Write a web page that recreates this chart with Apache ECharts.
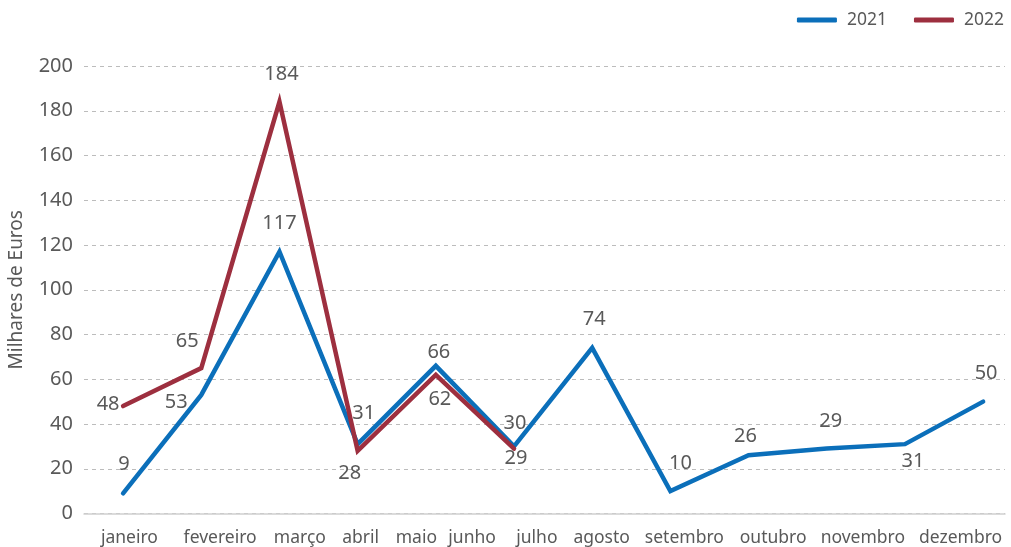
<!DOCTYPE html>
<html>
<head>
<meta charset="utf-8">
<script src="https://cdn.jsdelivr.net/npm/echarts@6/dist/echarts.min.js"></script>
<style>
    html, body { margin: 0; padding: 0; background: #fff; }
    #chartMain { width: 1011px; height: 547px; }
</style>
</head>
<body>
<div id="chartMain"></div>
<script>
// dados
const months = ['janeiro', 'fevereiro', 'março', 'abril', 'maio', 'junho', 'julho', 'agosto', 'setembro', 'outubro', 'novembro', 'dezembro']
const values2021 = [9, 53, 117, 31, 66, 30, 74, 10, 26, 29, 31, 50]
const values2022 = [48, 65, 184, 28, 62, 29]
const yTicks = [0, 20, 40, 60, 80, 100, 120, 140, 160, 180, 200]

// posição das etiquetas (px, relativo ao ponto)
const labelPos2021 = [[1, -29], [-25, 7], [0, -28], [6, -31], [3, -14], [1, -23], [2, -29], [10, -28], [-3, -19], [4, -27], [8, 17], [3, -28]]
const labelPos2022 = [[-15, -2], [-14, -27], [2, -28], [-8, 22], [4, 25], [2, 10]]
// deslocamento dos nomes dos meses
const monthShift = [7, 21, 24, 8, -13, -34, -46, -58, -52, -40, -27, -6]

const grey = '#595959',
    font = 'Noto Sans'

const chart = echarts.init(document.getElementById('chartMain'))

function makeData(vals, pos) {
    return vals.map((v, i) => ({
        value: [i, v],
        label: { offset: pos[i] },
    }))
}

const rich = {}
monthShift.forEach((d, i) => {
    rich['s' + i] = {
        fontSize: 17.5,
        color: grey,
        fontFamily: font,
        padding: d > 0 ? [0, 0, 0, 2 * d] : [0, -2 * d, 0, 0],
    }
})

const lineLabel = {
    show: true,
    position: 'inside',
    fontSize: 20,
    color: grey,
    fontFamily: font,
}

const option = {
    animation: false,
    textStyle: { fontFamily: font },
    legend: {
        right: 7,
        top: 11,
        padding: 0,
        itemWidth: 40,
        itemHeight: 5,
        itemGap: 27,
        icon: 'roundRect',
        textStyle: { fontSize: 17.5, color: grey, fontFamily: font, padding: [0, 0, 0, 5] },
        data: ['2021', '2022'],
    },
    grid: {
        left: 84,
        right: 6,
        top: 66,
        bottom: 33.5,
        outerBoundsMode: 'none',
    },
    xAxis: [
        {
            type: 'value',
            min: -0.5,
            max: 11.28,
            axisLine: { show: true, onZero: false, lineStyle: { color: '#d0d0d0', width: 1.5 } },
            axisTick: { show: false },
            axisLabel: { show: false },
            splitLine: { show: false },
        },
        {
            type: 'category',
            position: 'bottom',
            data: months,
            boundaryGap: true,
            axisLine: { show: false },
            axisTick: { show: false },
            splitLine: { show: false },
            axisLabel: {
                margin: 16,
                interval: 0,
                formatter: (v, i) => '{s' + i + '|' + v + '}',
                rich: rich,
            },
        },
    ],
    yAxis: {
        type: 'value',
        min: yTicks[0],
        max: yTicks[yTicks.length - 1],
        interval: yTicks[1] - yTicks[0],
        name: 'Milhares de Euros',
        nameLocation: 'middle',
        nameGap: 58,
        nameTextStyle: { fontSize: 19, color: grey, fontFamily: font },
        axisLine: { show: false },
        axisTick: { show: false },
        axisLabel: { fontSize: 20, color: grey, margin: 11, fontFamily: font },
        splitLine: {
            lineStyle: { color: '#bcbcbc', type: [4, 4], width: 1 },
        },
    },
    series: [
        {
            name: '2021',
            type: 'line',
            xAxisIndex: 0,
            data: makeData(values2021, labelPos2021),
            symbol: 'circle',
            symbolSize: 0,
            color: '#0B6FBA',
            lineStyle: { width: 4.5, color: '#0B6FBA', cap: 'round', join: 'miter' },
            label: lineLabel,
            z: 2,
        },
        {
            name: '2022',
            type: 'line',
            xAxisIndex: 0,
            data: makeData(values2022, labelPos2022),
            symbol: 'circle',
            symbolSize: 0,
            color: '#9D2F3F',
            lineStyle: { width: 4.5, color: '#9D2F3F', cap: 'round', join: 'miter' },
            label: lineLabel,
            z: 3,
        },
    ],
}
chart.setOption(option)
</script>
</body>
</html>
